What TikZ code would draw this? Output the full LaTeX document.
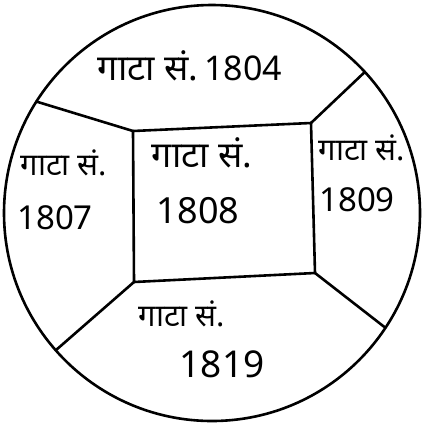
\documentclass[tikz,border=0pt]{standalone}
\usepackage{fontspec}
\newfontfamily\deva[Script=Devanagari]{Noto Sans}
\usetikzlibrary{calc}
\begin{document}
\begin{tikzpicture}[x=1pt,y=-1pt, line width=2.6pt, line cap=round, line join=round,
  lbl/.style={font=\deva\fontsize{31}{34}\selectfont, inner sep=0pt},
  num/.style={font=\deva\fontsize{33}{36}\selectfont, inner sep=0pt}]
\useasboundingbox (0,0) rectangle (425,424);
\coordinate (c) at (212,213);
\draw (c) circle [radius=208pt];
\coordinate (tl) at (133,131);
\coordinate (tr) at (311,123);
\coordinate (br) at (315,273);
\coordinate (bl) at (134,282);
\coordinate (p1) at ($(c)+(147.6:208pt)$);
\coordinate (p2) at ($(c)+(42.7:208pt)$);
\coordinate (p3) at ($(c)+(-33.5:208pt)$);
\coordinate (p4) at ($(c)+(221.3:208pt)$);
\draw (tl) -- (tr) -- (br) -- (bl) -- cycle;
\draw (tl) -- (p1);
\draw (tr) -- (p2);
\draw (br) -- (p3);
\draw (bl) -- (p4);
\node[lbl,font=\deva\fontsize{36}{40}\selectfont] (t1) at (190,66) {गाटा सं.\,\fontsize{34}{36}\selectfont 1804};
\node[lbl] (l1) at (64,163) {गाटा सं.};
\node[num] (l2) at (55,218) {1807};
\node[lbl,font=\deva\fontsize{36}{40}\selectfont] (m1) at (202,153) {गाटा सं.};
\node[num,font=\deva\fontsize{36}{40}\selectfont] (m2) at (198,211) {1808};
\node[lbl] (r1) at (362,148) {गाटा सं.};
\node[num] (r2) at (357,200) {1809};
\node[lbl] (b1) at (182,314) {गाटा सं.};
\node[num,font=\deva\fontsize{37}{40}\selectfont] (b2) at (222,364) {1819};
\end{tikzpicture}
\end{document}
